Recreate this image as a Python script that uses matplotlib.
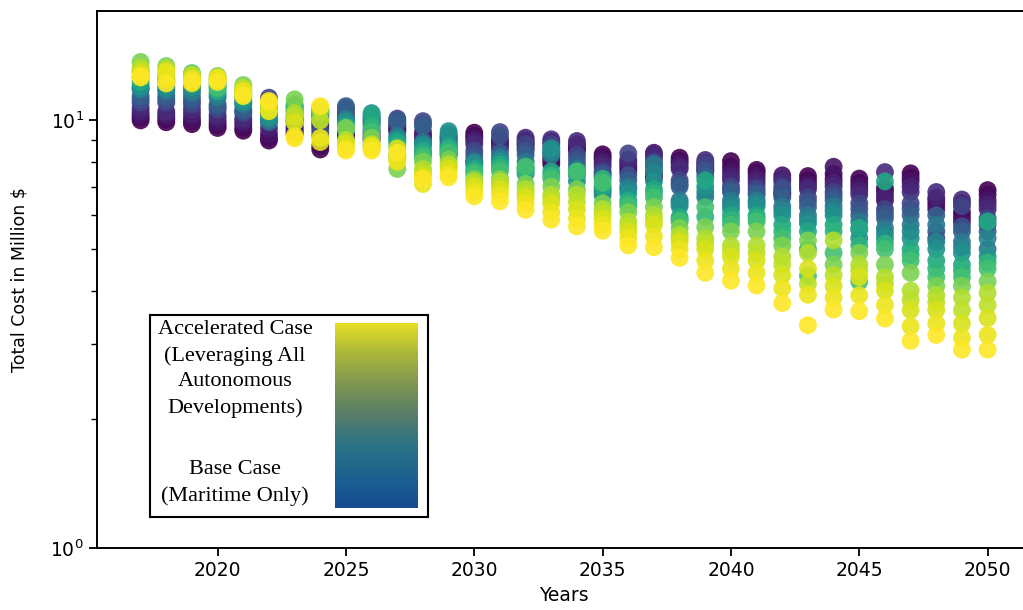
import matplotlib.pyplot as plt
from matplotlib.colors import LinearSegmentedColormap
from matplotlib.ticker import NullFormatter
import numpy as np

# scenario colour levels (0 = base case, 1 = accelerated case)
levels = [0.0, 0.02, 0.05, 0.09, 0.12, 0.2, 0.25, 0.3, 0.4, 0.45,
          0.5, 0.6, 0.65, 0.7, 0.8, 0.88, 0.9, 0.94, 0.97, 1.0]

# total cost (million $) per year, one value per scenario level
cost_by_year = {
    2017: [10.0, 10.15, 10.3, 10.5, 10.7, 11.0, 11.2, 11.4, 11.8, 11.9, 12.0, 12.3, 12.6, 13.0, 13.7, 13.3, 13.1, 12.9, 12.6, 12.7],
    2018: [9.9, 10.05, 10.2, 10.35, 10.5, 11.0, 11.2, 11.4, 11.7, 11.85, 12.0, 12.3, 12.45, 12.6, 13.4, 12.9, 13.2, 12.5, 13.0, 12.2],
    2019: [9.8, 9.95, 10.1, 10.35, 10.6, 10.9, 11.1, 11.3, 11.6, 11.8, 12.0, 12.6, 12.75, 12.9, 12.4, 12.7, 12.8, 12.2, 12.5, 12.3],
    2020: [9.6, 9.75, 9.9, 10.1, 10.3, 10.6, 10.75, 10.9, 11.3, 11.5, 12.2, 11.7, 12.0, 11.9, 12.7, 12.4, 12.45, 12.5, 12.6, 12.3],
    2021: [9.46, 9.6, 9.8, 9.95, 10.1, 10.4, 10.5, 10.6, 10.9, 11.0, 11.1, 11.3, 11.45, 11.6, 12.1, 11.8, 11.9, 11.5, 11.7, 11.4],
    2022: [8.97, 9.1, 9.3, 9.6, 10.4, 11.3, 11.0, 9.9, 10.0, 10.1, 10.2, 10.6, 10.7, 10.8, 10.6, 10.9, 10.95, 11.0, 10.5, 11.1],
    2023: [9.5, 9.4, 9.3, 9.6, 9.7, 9.9, 10.0, 10.1, 10.3, 10.5, 10.8, 10.6, 10.75, 10.9, 11.2, 10.4, 10.2, 9.9, 9.2, 9.08],
    2024: [8.55, 8.7, 9.6, 9.75, 9.9, 9.2, 9.4, 10.1, 10.3, 10.35, 10.4, 10.5, 10.55, 10.6, 10.5, 10.7, 10.0, 8.9, 9.1, 10.8],
    2025: [9.1, 9.2, 9.3, 10.2, 10.4, 10.6, 10.7, 10.8, 10.1, 10.0, 9.9, 9.7, 9.6, 9.5, 9.6, 9.0, 8.9, 8.8, 8.6, 8.5],
    2026: [9.2, 9.1, 9.0, 9.35, 9.5, 9.8, 10.0, 10.2, 9.9, 10.1, 10.4, 10.3, 9.7, 9.4, 9.1, 8.8, 8.75, 8.6, 8.7, 8.5],
    2027: [9.6, 9.5, 9.4, 9.7, 9.8, 10.1, 10.0, 9.9, 9.2, 9.1, 9.0, 8.9, 8.7, 8.3, 7.7, 8.1, 8.2, 8.6, 8.0, 8.4],
    2028: [8.4, 9.2, 9.4, 9.2, 9.0, 9.96, 9.8, 9.7, 8.9, 8.8, 8.7, 8.5, 8.35, 8.2, 8.0, 7.7, 7.55, 7.4, 7.1, 7.3],
    2029: [8.3, 8.45, 8.6, 8.75, 8.9, 9.2, 9.1, 9.0, 9.1, 9.3, 9.44, 8.7, 8.55, 8.4, 8.1, 7.9, 7.8, 7.7, 7.5, 7.36],
    2030: [9.36, 9.2, 9.1, 8.95, 8.8, 8.5, 8.3, 8.1, 8.0, 7.95, 7.9, 7.7, 7.6, 7.5, 7.3, 7.2, 7.1, 7.0, 6.8, 6.64],
    2031: [9.0, 8.9, 8.8, 8.7, 8.6, 9.39, 9.2, 8.4, 8.2, 8.1, 8.0, 7.9, 7.75, 7.6, 7.3, 7.2, 7.05, 6.9, 6.7, 6.47],
    2032: [8.6, 8.75, 8.9, 9.0, 9.11, 8.8, 8.5, 8.3, 8.0, 7.75, 7.5, 7.7, 7.6, 7.8, 7.1, 6.9, 6.75, 6.6, 6.4, 6.18],
    2033: [7.9, 8.05, 8.2, 8.9, 9.03, 8.8, 8.6, 8.4, 8.3, 8.45, 8.6, 7.6, 7.45, 7.3, 7.0, 6.7, 6.55, 6.4, 6.1, 5.86],
    2034: [8.5, 8.6, 8.7, 8.8, 8.95, 8.3, 8.1, 7.9, 7.7, 7.45, 7.2, 7.5, 7.55, 7.6, 6.9, 6.7, 6.45, 6.2, 5.9, 5.65],
    2035: [8.33, 8.2, 8.1, 7.95, 7.8, 7.6, 7.5, 7.4, 6.9, 6.8, 6.68, 7.0, 7.3, 7.15, 6.4, 6.2, 6.05, 5.9, 5.7, 5.52],
    2036: [7.75, 7.6, 7.9, 8.0, 8.1, 8.37, 7.45, 7.24, 7.0, 6.9, 6.75, 6.5, 6.4, 6.3, 6.1, 5.8, 5.65, 5.5, 5.3, 5.10],
    2037: [7.5, 7.35, 8.40, 8.3, 8.2, 8.0, 7.85, 7.7, 7.9, 7.55, 7.2, 6.9, 6.75, 6.6, 6.27, 6.0, 5.85, 5.7, 5.35, 5.05],
    2038: [8.18, 8.05, 7.95, 7.8, 7.7, 7.24, 7.1, 7.0, 6.5, 6.4, 6.3, 5.94, 5.85, 5.8, 5.6, 5.4, 5.3, 5.2, 5.0, 4.77],
    2039: [7.8, 7.7, 7.6, 7.95, 8.08, 7.9, 7.65, 7.4, 6.62, 6.8, 7.0, 7.24, 5.95, 6.27, 5.63, 5.3, 5.15, 5.0, 4.7, 4.40],
    2040: [8.03, 7.8, 7.6, 7.4, 7.24, 7.0, 6.9, 6.8, 6.5, 6.35, 6.2, 6.0, 5.85, 5.7, 5.5, 5.1, 4.95, 4.8, 4.5, 4.22],
    2041: [7.66, 7.55, 7.4, 7.25, 7.1, 6.93, 6.8, 6.7, 6.5, 6.4, 6.3, 6.0, 5.9, 5.8, 5.5, 5.1, 4.9, 4.7, 4.4, 4.11],
    2042: [6.8, 6.7, 7.44, 7.3, 7.2, 7.0, 6.9, 6.6, 6.3, 6.15, 6.0, 5.7, 5.5, 5.3, 5.1, 4.8, 4.6, 4.35, 4.05, 3.74],
    2043: [7.41, 7.25, 7.1, 7.0, 6.9, 6.6, 6.45, 6.27, 6.0, 5.85, 5.74, 5.5, 5.0, 4.33, 5.24, 4.9, 4.15, 4.5, 3.91, 3.32],
    2044: [7.3, 7.5, 7.79, 7.15, 7.0, 6.8, 6.65, 6.5, 6.3, 6.15, 6.0, 5.7, 5.5, 4.9, 4.6, 5.24, 4.35, 4.1, 3.85, 3.61],
    2045: [7.31, 7.15, 7.0, 6.85, 6.7, 6.4, 6.2, 6.0, 5.8, 5.55, 5.3, 5.6, 5.1, 4.2, 4.9, 4.6, 4.45, 4.3, 3.9, 3.58],
    2046: [6.8, 6.95, 6.5, 6.65, 7.57, 6.2, 6.05, 5.9, 5.6, 5.45, 5.3, 7.2, 5.15, 5.0, 4.6, 4.3, 4.15, 4.0, 3.7, 3.44],
    2047: [7.52, 7.35, 7.2, 7.0, 6.8, 6.4, 6.2, 6.0, 5.7, 5.5, 5.3, 5.0, 4.85, 4.7, 4.4, 4.0, 3.8, 3.6, 3.3, 3.05],
    2048: [6.5, 6.35, 6.2, 6.6, 6.80, 5.3, 5.5, 6.0, 5.7, 5.2, 5.0, 4.7, 4.5, 4.3, 4.1, 3.9, 3.75, 3.6, 3.35, 3.15],
    2049: [6.1, 5.95, 5.8, 6.4, 6.53, 6.3, 5.65, 5.5, 5.2, 5.05, 4.9, 4.6, 4.45, 4.3, 4.1, 3.85, 3.6, 3.35, 3.1, 2.91],
    2050: [6.87, 6.7, 6.5, 6.35, 6.2, 5.9, 5.7, 5.5, 5.0, 5.3, 4.8, 5.8, 4.65, 4.5, 4.2, 3.95, 3.7, 3.45, 3.15, 2.91],
}

years = list(cost_by_year.keys())

fig = plt.figure(figsize=(10.23, 6.10), dpi=100)
ax = fig.add_axes([0.0948, 0.1016, 0.912, 0.880])

for k, lev in enumerate(levels):
    vals = [cost_by_year[y][k] for y in years]
    ax.scatter(years, vals, c=[lev] * len(years), cmap='viridis', vmin=0, vmax=1,
               s=165, alpha=0.9, edgecolors='none')

ax.set_yscale('log')
ax.set_ylim(1, 18)
ax.set_xlim(2015.3, 2051.65)
ax.set_xticks([2020, 2025, 2030, 2035, 2040, 2045, 2050])
ax.yaxis.set_minor_formatter(NullFormatter())
ax.tick_params(axis='both', which='major', labelsize=13.5, length=6, width=1.3)
ax.tick_params(axis='y', which='minor', length=4, width=1.0)
for sp in ax.spines.values():
    sp.set_linewidth(1.4)
ax.spines['right'].set_visible(False)
ax.set_xlabel("Years", fontsize=13.5, labelpad=4)
ax.set_ylabel("Total Cost in Million $", fontsize=12.5, labelpad=16)

# legend box with gradient
box = fig.add_axes([0.1466, 0.1525, 0.2718, 0.3311])
box.set_xticks([])
box.set_yticks([])
box.patch.set_facecolor('white')
for sp in box.spines.values():
    sp.set_linewidth(1.5)
    sp.set_color('black')

grad_cmap = LinearSegmentedColormap.from_list(
    'legend_grad',
    ['#174a93', '#1c6290', '#2a7385', '#587d6a', '#7e9650', '#abb73b', '#e9e023'])
gax = fig.add_axes([0.3275, 0.1672, 0.0811, 0.3033])
gax.imshow(np.linspace(0, 1, 256).reshape(-1, 1), cmap=grad_cmap, aspect='auto',
           origin='lower')
gax.axis('off')

legend_lines_top = ["Accelerated Case", "(Leveraging All", "Autonomous", "Developments)"]
legend_lines_bottom = ["Base Case", "(Maritime Only)"]
ys_top = [330, 356, 382, 408]
ys_bottom = [470, 496]
for txt, yp in zip(legend_lines_top + legend_lines_bottom, ys_top + ys_bottom):
    fig.text(235 / 1023, 1 - yp / 610, txt, ha='center', va='center',
             fontsize=16, family='Liberation Serif')

fig.savefig('out.png', dpi=100)
